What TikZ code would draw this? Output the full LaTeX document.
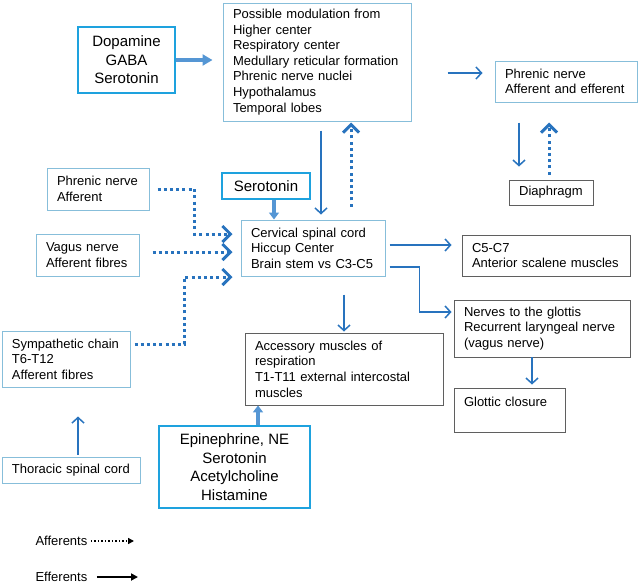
\documentclass[tikz,border=0pt]{standalone}
\usepackage{fontspec}
\setmainfont{Liberation Sans}
\usetikzlibrary{arrows.meta}
\definecolor{boxcyan}{RGB}{30,162,222}
\definecolor{boxpale}{RGB}{135,190,218}
\definecolor{boxgrey}{RGB}{95,95,95}
\definecolor{linkblue}{RGB}{40,115,190}
\definecolor{fatblue}{RGB}{85,150,212}
\begin{document}
\begin{tikzpicture}[x=1pt, y=-1pt,
		small/.style={font=\fontsize{13}{15.6}\selectfont},
		big/.style={font=\fontsize{15}{18.5}\selectfont},
		palebox/.style={draw=boxpale, line width=1pt, small, align=left, inner xsep=10pt, inner ysep=0pt},
		greybox/.style={draw=boxgrey, line width=0.9pt, small, align=left, inner xsep=10pt, inner ysep=0pt},
		cyanbox/.style={draw=boxcyan, line width=1.8pt, big, align=center, inner sep=0pt},
		eff/.style={draw=linkblue, line width=1.5pt, -{Straight Barb[length=5.5pt,width=12pt]}},
		aff/.style={draw=linkblue, line width=3pt, dash pattern=on 3pt off 3.2pt, -{Straight Barb[length=8pt,width=16pt]}},
		fat/.style={draw=fatblue, line width=3.5pt, -{Triangle[length=10pt,width=11pt]}}]
		\useasboundingbox (0,0) rectangle (640,584);
		
		% Define nodes
		\node[cyanbox, minimum width=97pt, minimum height=66pt] (dopa) at (126.5,60) {Dopamine\\GABA\\Serotonin};
		\node[palebox, text width=168pt, minimum height=118pt] (modul) at (317,62) {Possible modulation from\\Higher center\\Respiratory center\\Medullary reticular formation\\Phrenic nerve nuclei\\Hypothalamus\\Temporal lobes};
		\node[palebox, text width=122pt, minimum height=41pt] (phren) at (566,81.5) {Phrenic nerve\\Afferent and efferent};
		\node[greybox, align=center, minimum width=84pt, minimum height=25pt] (diaph) at (551,192.5) {Diaphragm};
		\node[cyanbox, minimum width=88pt, minimum height=26pt] (sero) at (266,186) {Serotonin};
		\node[palebox, text width=124pt, minimum height=56pt] (hiccup) at (313,248) {Cervical spinal cord\\Hiccup Center\\Brain stem vs C3-C5};
		\node[palebox, text width=82pt, minimum height=42pt] (phrenaff) at (98,189) {Phrenic nerve\\Afferent};
		\node[palebox, text width=83pt, minimum height=42pt] (vagus) at (87.5,255) {Vagus nerve\\Afferent fibres};
		\node[palebox, text width=108pt, minimum height=56pt] (symp) at (66,359) {Sympathetic chain\\T6-T12\\Afferent fibres};
		\node[palebox, text width=118pt, minimum height=26pt] (thor) at (71,470) {Thoracic spinal cord};
		\node[greybox, text width=148pt, minimum height=41pt] (scal) at (546,255.5) {C5-C7\\Anterior scalene muscles};
		\node[greybox, text width=156pt, minimum height=57pt] (glottis) at (542,328.5) {Nerves to the glottis\\Recurrent laryngeal nerve\\(vagus nerve)};
		\node[greybox, text width=178pt, minimum height=72pt] (access) at (344,369) {Accessory muscles of\\respiration\\T1-T11 external intercostal\\muscles};
		\node[cyanbox, minimum width=151pt, minimum height=82pt] (epi) at (234.5,467) {Epinephrine, NE\\Serotonin\\Acetylcholine\\Histamine};
		\node[greybox, text width=91pt, minimum height=44pt] (closure) at (509.5,410) {Glottic closure\\\mbox{}};
		
		% Legend
		\node[small, anchor=west] (affleg) at (32,541) {Afferents};
		\node[small, anchor=west] (effleg) at (32,577) {Efferents};
		\coordinate (affend) at (134,541);
		\coordinate (effend) at (138,577);
		\coordinate (vagusout) at ([yshift=3pt]vagus.east);
		
		% Draw edges
		\draw[fat, shorten >=10pt] (dopa.east) -- (dopa.east -| modul.west);
		\draw[eff, shorten <=36pt, shorten >=12pt] ([yshift=-11pt]modul.east) -- ([yshift=8.5pt]phren.west);
		\draw[eff, shorten <=9pt, shorten >=5pt] ([xshift=4pt]modul.south) -- ([xshift=8pt]hiccup.north);
		\draw[aff, shorten <=13pt, shorten >=1pt] ([xshift=38pt]hiccup.north) -- ([xshift=34pt]modul.south);
		\draw[eff, shorten <=20pt, shorten >=13pt] ([xshift=-47pt]phren.south) -- ([xshift=-32pt]diaph.north);
		\draw[aff, shorten <=5pt, shorten >=20pt] ([xshift=-2pt]diaph.north) -- ([xshift=-17pt]phren.south);
		\draw[fat, -{Triangle[length=7pt,width=10pt]}] ([xshift=8pt]sero.south) -- ([xshift=-39pt]hiccup.north);
		\draw[aff] ([xshift=8pt]phrenaff.east) -| ([xshift=-46pt,yshift=14pt]hiccup.west) -- ([xshift=-8pt,yshift=14pt]hiccup.west);
		\draw[aff, shorten <=13pt, shorten >=8pt] (vagusout) -- (vagusout -| hiccup.west);
		\draw[aff] ([xshift=4pt,yshift=15pt]symp.east) -| ([xshift=-56pt,yshift=-29pt]hiccup.west) -- ([xshift=-8pt,yshift=-29pt]hiccup.west);
		\draw[eff, shorten <=2pt, shorten >=29pt] ([xshift=7pt]thor.north) -- ([xshift=12pt]symp.south);
		\draw[eff, shorten <=4pt, shorten >=10pt] ([yshift=3pt]hiccup.east) -- ([yshift=10.5pt]scal.west);
		\draw[eff, shorten <=4pt, shorten >=2pt] ([yshift=-19pt]hiccup.east) -| ([xshift=-34pt,yshift=16.5pt]glottis.west) -- ([yshift=16.5pt]glottis.west);
		\draw[eff, shorten <=18pt, shorten >=1pt] ([xshift=31pt]hiccup.south) -- (access.north);
		\draw[fat, -{Triangle[length=7pt,width=10pt]}] ([xshift=23.5pt]epi.north) -- ([xshift=-86pt]access.south);
		\draw[eff, shorten >=3pt] ([xshift=-10pt]glottis.south) -- ([xshift=22.5pt]closure.north);
		\draw[black, line width=1.5pt, dash pattern=on 1.5pt off 2pt, -{Triangle[length=6pt,width=6pt]}] (affleg.east) -- (affend);
		\draw[black, line width=2.5pt, -{Triangle[length=7pt,width=7pt]}] ([xshift=6pt]effleg.east) -- (effend);
\end{tikzpicture}
\end{document}
